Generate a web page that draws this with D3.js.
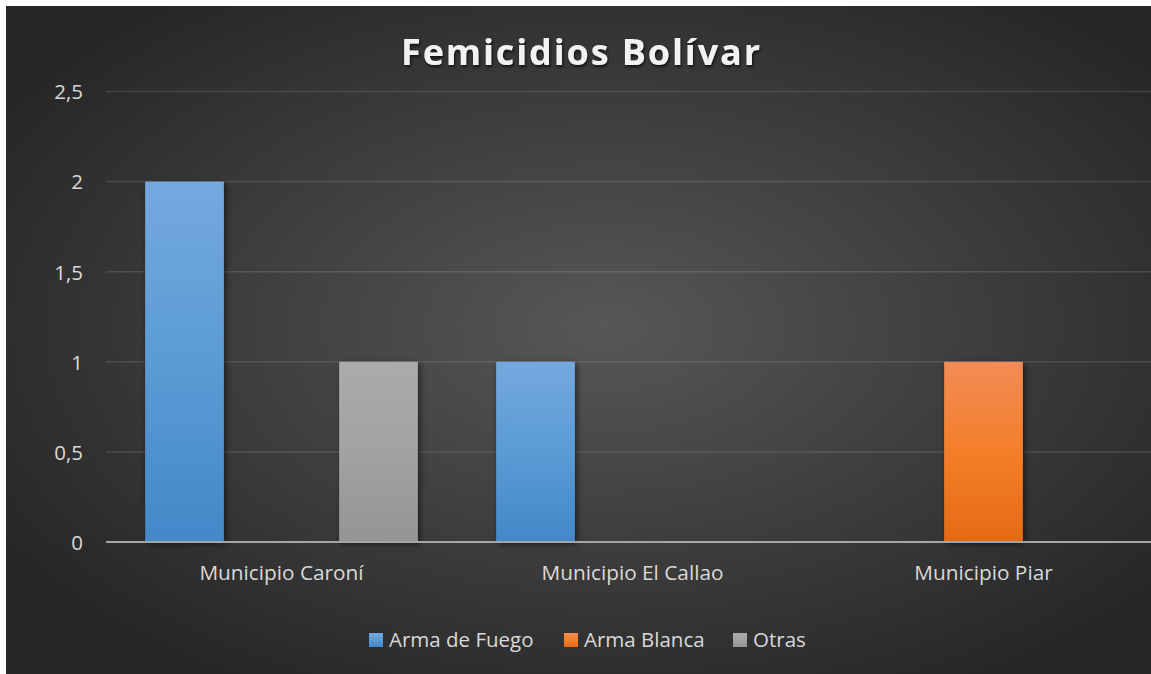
<!DOCTYPE html>
<html>
<head>
<meta charset="utf-8">
<script src="https://cdn.jsdelivr.net/npm/d3@7/dist/d3.min.js"></script>
<style>
  html, body { margin: 0; padding: 0; background: #ffffff; }
  svg { display: block; }
  text { font-family: "Open Sans", "Noto Sans", sans-serif; }
</style>
</head>
<body>
<svg id="chart" width="1151" height="674"></svg>
<script>
// ---- data ----
const title = "Femicidios Bolívar";
const categories = ["Municipio Caroní", "Municipio El Callao", "Municipio Piar"];
const seriesNames = ["Arma de Fuego", "Arma Blanca", "Otras"];
const armaDeFuego = [2, 1, 0];
const armaBlanca = [0, 0, 1];
const otras = [1, 0, 0];
const yTicks = [0, 0.5, 1, 1.5, 2, 2.5];
const yTickLabels = ["0", "0,5", "1", "1,5", "2", "2,5"];

const seriesValues = [armaDeFuego, armaBlanca, otras];
const colors = [
  ["#74a9de", "#5b9bd5", "#4388c9"],
  ["#f28b55", "#f47f2a", "#e56a15"],
  ["#ababab", "#a2a2a2", "#959595"]
];

const svg = d3.select("#chart");
const defs = svg.append("defs");

// background gradient
const bg = defs.append("radialGradient").attr("id", "bgGrad")
  .attr("cx", "0.52").attr("cy", "0.48").attr("r", "0.62");
bg.append("stop").attr("offset", "0").attr("stop-color", "#575757");
bg.append("stop").attr("offset", "1").attr("stop-color", "#262626");

colors.forEach((c, i) => {
  const g = defs.append("linearGradient").attr("id", "barGrad" + i)
    .attr("x1", 0).attr("y1", 0).attr("x2", 0).attr("y2", 1);
  g.append("stop").attr("offset", "0").attr("stop-color", c[0]);
  g.append("stop").attr("offset", "0.5").attr("stop-color", c[1]);
  g.append("stop").attr("offset", "1").attr("stop-color", c[2]);
});

const shadow = defs.append("filter").attr("id", "barShadow")
  .attr("x", "-20%").attr("y", "-10%").attr("width", "150%").attr("height", "130%");
shadow.append("feDropShadow").attr("dx", 2).attr("dy", 2).attr("stdDeviation", 3)
  .attr("flood-color", "#000").attr("flood-opacity", 0.55);

const tShadow = defs.append("filter").attr("id", "titleShadow")
  .attr("x", "-10%").attr("y", "-30%").attr("width", "120%").attr("height", "160%");
tShadow.append("feDropShadow").attr("dx", 1).attr("dy", 2).attr("stdDeviation", 1.5)
  .attr("flood-color", "#000").attr("flood-opacity", 0.7);

// chart area
svg.append("rect").attr("x", 6).attr("y", 6).attr("width", 1152).attr("height", 670)
  .attr("fill", "url(#bgGrad)");

// scales
const x0 = d3.scaleBand().domain(categories).range([106, 1159]).paddingInner(0).paddingOuter(0);
const x1 = d3.scaleBand().domain(seriesNames).range([0, x0.bandwidth()])
  .paddingInner(0.1887).paddingOuter(0.4036);
const y = d3.scaleLinear().domain([0, 2.5]).range([542, 91.5]);

// gridlines
svg.append("g").selectAll("line").data(yTicks.filter(d => d > 0)).join("line")
  .attr("x1", 106).attr("x2", 1159)
  .attr("y1", d => y(d)).attr("y2", d => y(d))
  .attr("stroke", "#ffffff").attr("stroke-opacity", 0.12).attr("stroke-width", 1.5);

// y axis labels
const yAxis = d3.axisLeft(y).tickValues(yTicks)
  .tickFormat((d, i) => yTickLabels[i]).tickSize(0).tickPadding(0);
const yg = svg.append("g").attr("transform", "translate(83,0)").call(yAxis);
yg.select(".domain").remove();
yg.selectAll("text").attr("fill", "#d9d9d9").attr("font-size", 20.5)
  .attr("font-family", "Open Sans").attr("dy", "0.36em").attr("x", 0);

// bars
const groups = svg.append("g").selectAll("g").data(categories).join("g")
  .attr("transform", d => `translate(${x0(d)},0)`);
groups.selectAll("rect")
  .data((c, ci) => seriesNames.map((s, si) => ({ s, si, v: seriesValues[si][ci] })).filter(d => d.v > 0))
  .join("rect")
  .attr("x", d => x1(d.s))
  .attr("width", x1.bandwidth())
  .attr("y", d => y(d.v))
  .attr("height", d => y(0) - y(d.v))
  .attr("fill", d => `url(#barGrad${d.si})`)
  .attr("filter", "url(#barShadow)");

// baseline
svg.append("line").attr("x1", 106).attr("x2", 1159).attr("y1", y(0)).attr("y2", y(0))
  .attr("stroke", "#a6a6a6").attr("stroke-width", 2.2);

// x axis labels
const xAxis = d3.axisBottom(x0).tickSize(0).tickPadding(0);
const xg = svg.append("g").attr("transform", "translate(0,580)").call(xAxis);
xg.select(".domain").remove();
xg.selectAll("text").attr("fill", "#d9d9d9").attr("font-size", 20.8)
  .attr("font-family", "Open Sans").attr("dy", 0).attr("y", 0);

// title
svg.append("text").attr("x", 401).attr("y", 65)
  .attr("font-size", 36).attr("font-weight", "bold").attr("fill", "#f2f2f2")
  .attr("textLength", 359).attr("lengthAdjust", "spacing")
  .attr("filter", "url(#titleShadow)")
  .text(title);

// legend
const legendX = [369, 564, 733];
const lg = svg.append("g").selectAll("g").data(seriesNames).join("g")
  .attr("transform", (d, i) => `translate(${legendX[i]},633)`);
lg.append("rect").attr("width", 14).attr("height", 14)
  .attr("fill", (d, i) => `url(#barGrad${i})`);
lg.append("text").attr("x", 20).attr("y", 14).attr("fill", "#d9d9d9")
  .attr("font-size", 20.5).text(d => d);
</script>
</body>
</html>
